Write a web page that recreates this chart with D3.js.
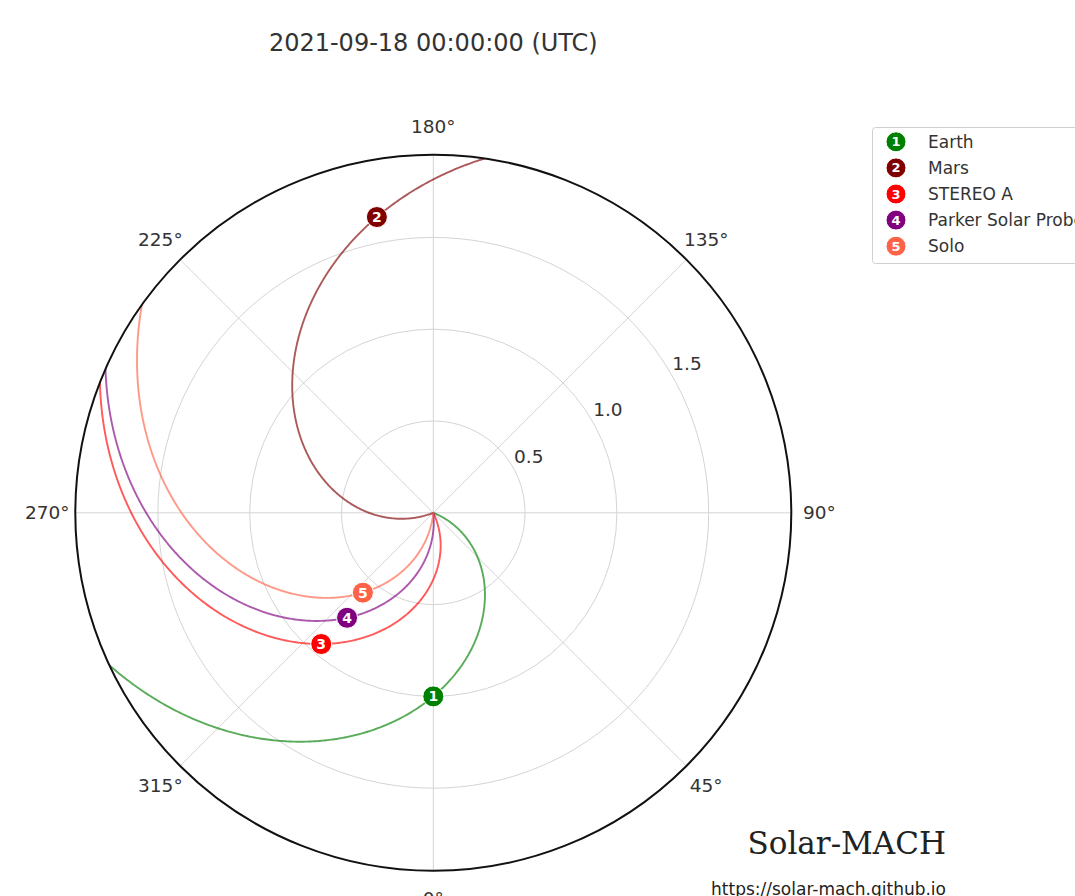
<!DOCTYPE html>
<html>
<head>
<meta charset="UTF-8">
<title>Solar-MACH</title>
<script src="https://cdn.jsdelivr.net/npm/d3@7"></script>
<style>
  body { margin: 0; background: #fff; }
  text { font-family: "DejaVu Sans", sans-serif; fill: #333; }
</style>
</head>
<body>
<script>
  // bodies (distance in AU, Stonyhurst longitude in deg)
  const bodyNames = ["Earth", "Mars", "STEREO A", "Parker Solar Probe", "Solo"];
  const bodyDist = [1.0, 1.64, 0.94, 0.74, 0.58];
  const bodyLon = [0, 190.8, -40.5, -39.4, -41.4];
  const bodyVsw = [360, 400, 350, 400, 400];
  const bodyColors = ["#008000", "#800000", "#ff0000", "#800080", "#ff6347"];

  const angleTicks = [0, 45, 90, 135, 180, 225, 270, 315];
  const radialTicks = [0.5, 1.0, 1.5];
  const rMax = 1.95;
  const titleText = "2021-09-18 00:00:00 (UTC)";

  const w = 1075, h = 896;
  const cx = 433.3, cy = 512.8, R = 358;

  // sun rotation (sidereal) and AU in km
  const omega = 2 * Math.PI / (25.38 * 86400);
  const AU = 1.496e8;

  const rScale = d3.scaleLinear().domain([0, rMax]).range([0, R]);
  // lon 0 at the bottom, increasing counter clockwise
  const aScale = d3.scaleLinear().domain([0, 360]).range([Math.PI, -Math.PI]);

  function px(r, lon) {
    const a = aScale(lon);
    return [cx + rScale(r) * Math.sin(a), cy - rScale(r) * Math.cos(a)];
  }

  const svg = d3.select("body").append("svg")
    .attr("width", w)
    .attr("height", h);

  svg.append("rect").attr("width", w).attr("height", h).attr("fill", "#fff");

  svg.append("text")
    .attr("x", cx)
    .attr("y", 51)
    .attr("text-anchor", "middle")
    .style("font-size", "24px")
    .text(titleText);

  const g = svg.append("g").attr("transform", "translate(" + cx + "," + cy + ")");

  svg.append("clipPath").attr("id", "clip")
    .append("circle").attr("cx", 0).attr("cy", 0).attr("r", R);

  // grid
  g.selectAll(".rgrid")
    .data(radialTicks)
    .enter()
    .append("circle")
    .attr("class", "rgrid")
    .attr("r", d => rScale(d))
    .attr("fill", "none")
    .attr("stroke", "#d4d4d4")
    .attr("stroke-width", 1);

  g.selectAll(".agrid")
    .data(angleTicks)
    .enter()
    .append("line")
    .attr("class", "agrid")
    .attr("x1", 0).attr("y1", 0)
    .attr("x2", d => R * Math.sin(aScale(d)))
    .attr("y2", d => -R * Math.cos(aScale(d)))
    .attr("stroke", "#d4d4d4")
    .attr("stroke-width", 1);

  // radial labels
  const labAngle = 30.5 * Math.PI / 180;
  g.selectAll(".rlab")
    .data(radialTicks)
    .enter()
    .append("text")
    .attr("class", "rlab")
    .attr("x", d => (rScale(d) + 19) * Math.cos(labAngle))
    .attr("y", d => -(rScale(d) + 19) * Math.sin(labAngle))
    .attr("text-anchor", "middle")
    .attr("dominant-baseline", "central")
    .style("font-size", "18.5px")
    .text(d => d.toFixed(1));

  // angle labels
  g.selectAll(".alab")
    .data(angleTicks)
    .enter()
    .append("text")
    .attr("class", "alab")
    .attr("x", d => 386 * Math.sin(aScale(d)))
    .attr("y", d => -386 * Math.cos(aScale(d)))
    .attr("text-anchor", "middle")
    .attr("dominant-baseline", "central")
    .style("font-size", "18.5px")
    .text(d => d + "\u00b0");

  // parker spirals
  const spiral = d3.lineRadial()
    .angle(d => aScale(d[1]))
    .radius(d => rScale(d[0]))
    .curve(d3.curveLinear);

  const spirals = g.append("g").attr("clip-path", "url(#clip)");

  bodyNames.forEach((name, i) => {
    const k = omega * AU / bodyVsw[i] * 180 / Math.PI; // deg per AU
    const pts = [];
    for (let j = 0; j <= 400; j++) {
      const r = rMax * j / 400;
      pts.push([r, bodyLon[i] + k * (bodyDist[i] - r)]);
    }
    spirals.append("path")
      .attr("d", spiral(pts))
      .attr("fill", "none")
      .attr("stroke", bodyColors[i])
      .attr("stroke-opacity", 0.65)
      .attr("stroke-width", 1.9);
  });

  // outer frame
  g.append("circle")
    .attr("r", R)
    .attr("fill", "none")
    .attr("stroke", "#111")
    .attr("stroke-width", 2);

  // body markers
  const marks = g.selectAll(".body")
    .data(bodyNames)
    .enter()
    .append("g")
    .attr("class", "body")
    .attr("transform", (d, i) => {
      const p = px(bodyDist[i], bodyLon[i]);
      return "translate(" + (p[0] - cx) + "," + (p[1] - cy) + ")";
    });

  marks.append("circle")
    .attr("r", 10.5)
    .attr("fill", (d, i) => bodyColors[i])
    .attr("stroke", "#fff")
    .attr("stroke-width", 1);

  marks.append("text")
    .attr("text-anchor", "middle")
    .attr("dominant-baseline", "central")
    .style("font-size", "14px")
    .style("font-weight", "bold")
    .style("fill", "#fff")
    .text((d, i) => i + 1);

  // legend
  const leg = svg.append("g").attr("transform", "translate(872.5,127.5)");
  leg.append("rect")
    .attr("width", 230)
    .attr("height", 136)
    .attr("rx", 3)
    .attr("fill", "#fff")
    .attr("stroke", "#d0d0d0");

  const rows = leg.selectAll(".row")
    .data(bodyNames)
    .enter()
    .append("g")
    .attr("class", "row")
    .attr("transform", (d, i) => "translate(0," + (14.3 + i * 26.1) + ")");

  rows.append("circle")
    .attr("cx", 23.5)
    .attr("r", 10)
    .attr("fill", (d, i) => bodyColors[i])
    .attr("stroke", "#fff")
    .attr("stroke-width", 1);

  rows.append("text")
    .attr("x", 23.5)
    .attr("text-anchor", "middle")
    .attr("dominant-baseline", "central")
    .style("font-size", "13px")
    .style("font-weight", "bold")
    .style("fill", "#fff")
    .text((d, i) => i + 1);

  rows.append("text")
    .attr("x", 55.5)
    .attr("dominant-baseline", "central")
    .style("font-size", "17px")
    .text(d => d);

  // branding
  svg.append("text")
    .attr("x", 946)
    .attr("y", 854)
    .attr("text-anchor", "end")
    .style("font-family", "'DejaVu Serif', serif")
    .style("font-size", "31px")
    .style("fill", "#222")
    .text("Solar-MACH");

  svg.append("text")
    .attr("x", 946)
    .attr("y", 895)
    .attr("text-anchor", "end")
    .style("font-size", "17px")
    .style("fill", "#222")
    .text("https://solar-mach.github.io");
</script>
</body>
</html>
